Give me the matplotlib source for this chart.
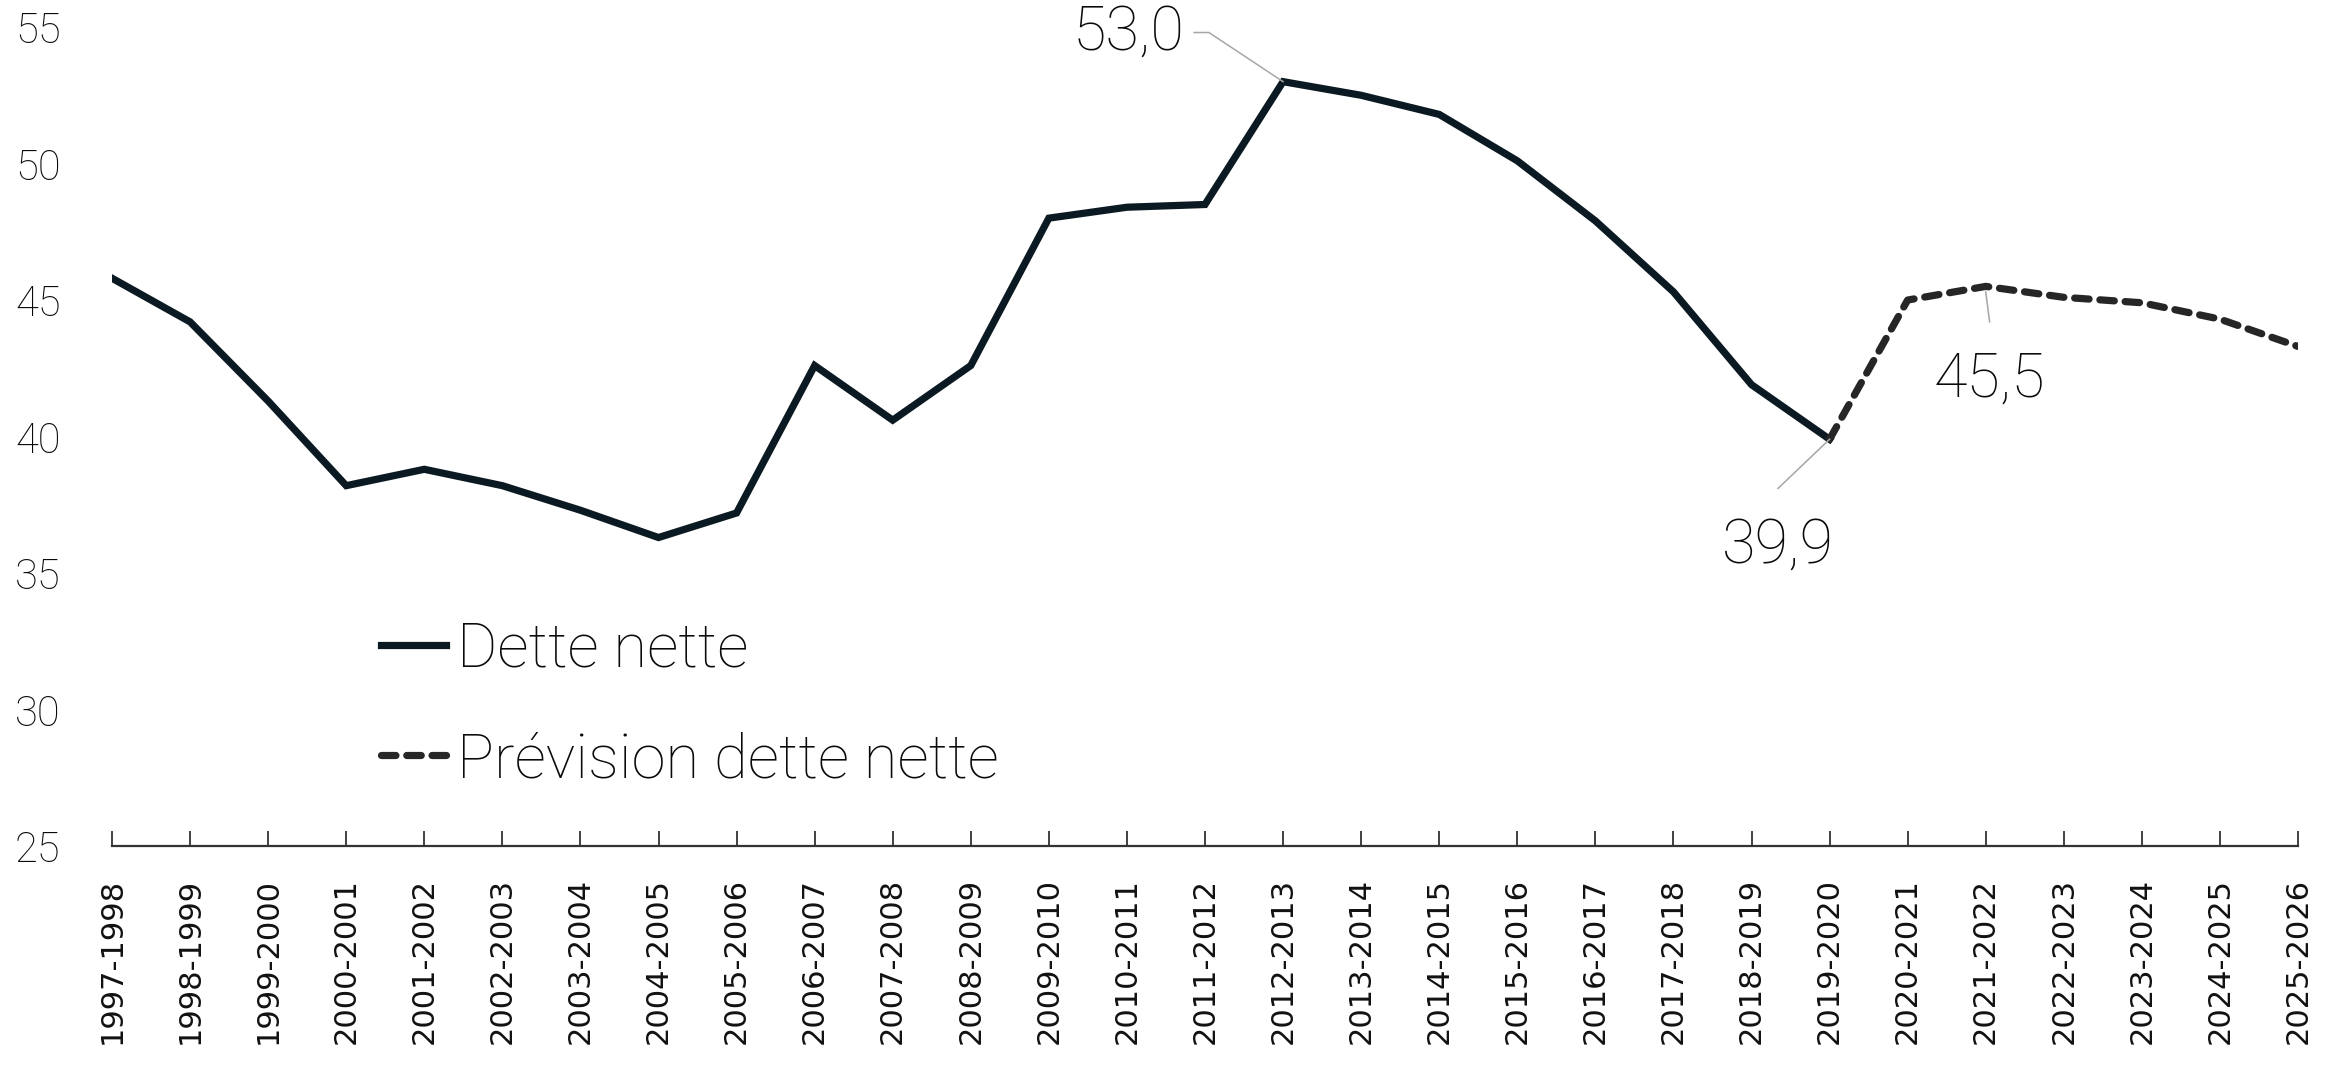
import matplotlib.pyplot as plt
import numpy as np

plt.rcParams['font.family'] = ['Roboto', 'DejaVu Sans']

# Data (net debt, % )
periods = ["1997-1998", "1998-1999", "1999-2000", "2000-2001", "2001-2002",
           "2002-2003", "2003-2004", "2004-2005", "2005-2006", "2006-2007",
           "2007-2008", "2008-2009", "2009-2010", "2010-2011", "2011-2012",
           "2012-2013", "2013-2014", "2014-2015", "2015-2016", "2016-2017",
           "2017-2018", "2018-2019", "2019-2020", "2020-2021", "2021-2022",
           "2022-2023", "2023-2024", "2024-2025", "2025-2026"]
dette_nette = [45.8, 44.2, 41.3, 38.2, 38.8, 38.2, 37.3, 36.3, 37.2, 42.6,
               40.6, 42.6, 48.0, 48.4, 48.5, 53.0, 52.5, 51.8, 50.1, 47.9,
               45.3, 41.9, 39.9]
prevision = [39.9, 45.0, 45.5, 45.1, 44.9, 44.3, 43.3]
y_ticks = [25, 30, 35, 40, 45, 50, 55]

x = np.arange(len(periods))
x_hist = x[:len(dette_nette)]
x_prev = x[len(dette_nette) - 1:]

fig = plt.figure(figsize=(23.43, 10.82), dpi=100)
ax = fig.add_axes([0.0478, 0.2181, 0.9330, 0.7569])

ax.plot(x_hist, dette_nette, color='#0b1a22', lw=5.2, solid_joinstyle='miter',
        label='Dette nette')
ax.plot(x_prev, prevision, color='#262626', lw=5.2, dashes=(2.0, 1.5),
        dash_capstyle='round', label='Prévision dette nette')

# value labels with thin grey leader lines
lead = dict(color='#a6a6a6', lw=1.1)
ax.plot([13.86, 14.05, 15], [54.8, 54.8, dette_nette[15]], **lead)
ax.text(13.74, 54.8, '53,0', ha='right', va='center', fontsize=44,
        fontweight='light', color='#0a0a0a')
ax.plot([21.34, 22], [38.1, dette_nette[22]], **lead)
ax.text(21.34, 36.0, '39,9', ha='center', va='center', fontsize=44,
        fontweight='light', color='#0a0a0a')
ax.plot([24.05, 24.0], [44.2, prevision[2] - 0.2], **lead)
ax.text(24.05, 42.1, '45,5', ha='center', va='center', fontsize=44,
        fontweight='light', color='#0a0a0a')

ax.set_xlim(0, len(periods) - 1)
ax.set_ylim(25, 55)
ax.set_yticks(y_ticks)
ax.set_xticks(x)
ax.set_xticklabels(periods, rotation=90, fontsize=22, family='DejaVu Sans',
                   color='#111111')
for lab in ax.get_yticklabels():
    lab.set_fontsize(30)
    lab.set_fontweight('light')
    lab.set_color('#0a0a0a')

for s in ['top', 'right', 'left']:
    ax.spines[s].set_visible(False)
ax.spines['bottom'].set_color('#333333')
ax.spines['bottom'].set_linewidth(1.6)
ax.tick_params(axis='x', direction='in', length=11, width=1.3,
               color='#333333', pad=23)
ax.tick_params(axis='y', length=0, pad=37)

leg = fig.legend(loc='upper left', bbox_to_anchor=(0.1626, 0.4265), frameon=False,
                 fontsize=44.5, handlelength=1.05, handletextpad=0.18,
                 labelspacing=0.85, borderpad=0, borderaxespad=0)
for t in leg.get_texts():
    t.set_fontweight('light')
    t.set_color('#0a0a0a')

fig.savefig('out.png', dpi=100)
